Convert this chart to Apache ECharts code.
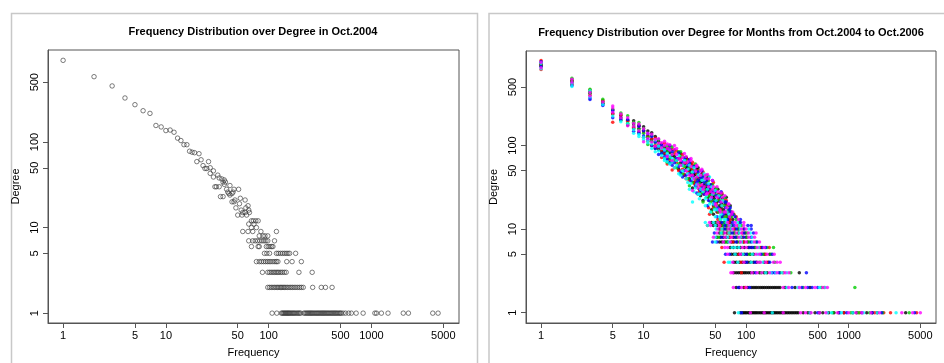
<!DOCTYPE html>
<html>
<head>
<meta charset="utf-8">
<script src="https://cdn.jsdelivr.net/npm/echarts@6/dist/echarts.min.js"></script>
<style>
  html, body { margin: 0; padding: 0; background: #fff; }
  #chart { width: 944px; height: 363px; }
</style>
</head>
<body>
<div id="chart"></div>
<script>
// ---- data ----
var freqTicks = [1, 5, 10, 50, 100, 500, 1000, 5000];
var degreeTicks = [1, 5, 10, 50, 100, 500];
var rowDegrees = [1, 2, 3, 4, 5, 6, 7, 8, 9, 10, 11, 12];

// Oct.2004: [frequency, degree] for the upper curve, frequencies per degree row below
var oct2004Curve = [[1,900],[2,580],[3,452],[4,327],[5,273],[6,232],[7,216],[8,156],[9,150],[10,136],[11,138],[12,130],[13,111],[14,104],[15,93],[16,93],[17,78],[18,76],[19,75],[20,59],[21,73],[22,62],[23,53],[24,49],[25,49],[26,59],[27,50],[27,43],[29,46],[29,39],[30,30],[31,30],[32,41],[33,30],[33,38],[34,23],[35,37],[36,34],[36,23],[37,36],[37,32],[38,34],[39,28],[40,26],[41,25],[42,31],[42,24],[44,25],[44,20],[45,26],[46,28],[46,20],[47,21],[48,17],[50,14],[51,28],[52,19],[53,22],[54,16],[55,14],[56,15],[59,21],[59,15],[60,17],[61,14],[63,18],[64,16],[65,15]];
var oct2004Rows = [
  [108,120,133,136,139,142,145,148,151,154,157,160,164,168,172,176,180,185,190,195,200,205,220,226,232,238,244,250,256,262,268,275,282,289,296,303,310,318,326,334,342,350,359,368,377,386,396,406,416,427,438,449,460,472,485,497,508,530,560,600,637,710,830,1080,1120,1250,1450,2040,2290,3950,4450],
  [98,102,106,110,114,118,122,126,130,134,138,142,147,152,158,164,170,177,184,192,200,208,217,268,325,357,414],
  [87,98,102,106,110,114,118,122,126,131,136,142,148,197,265],
  [76,81,85,89,93,97,101,105,110,115,119,123,150,169,208],
  [91,96,102,119,124,130,136,142,148,154,160,183],
  [68,79,81,95,99,103,107,110],
  [64,70,74,78,82,86,90,94,98,114],
  [81,88,92,98],
  [56,63,70,84,119],
  [68,76],
  [64,72],
  [68,71,75,79]
];

// Oct.2004 - Oct.2006, grouped by plotting colour
var blackCurve = [[1,960],[1,930],[1,900],[2,600],[2,580],[2,560],[3,440],[3,420],[4,335],[4,320],[5,265],[5,240],[6,228],[6,215],[7,200],[7,176],[8,198],[8,180],[8,160],[9,175],[9,160],[9,145],[10,168],[10,150],[11,149],[11,130],[12,142],[12,118],[13,128],[13,96],[14,112],[14,90],[15,104],[15,86],[16,96],[16,80],[17,86],[17,92],[18,82],[18,72],[19,76],[19,64],[20,74],[20,88],[21,66],[22,70],[22,52],[23,62],[23,80],[23,46],[24,58],[25,60],[25,44],[26,54],[26,70],[26,72],[27,55],[28,50],[28,40],[29,52],[29,60],[30,46],[30,31],[31,44],[31,36],[32,45],[33,40],[33,52],[34,42],[34,54],[35,38],[35,30],[36,36],[36,25],[37,37],[37,46],[38,33],[38,27],[38,22],[39,34],[40,31],[41,32],[41,40],[42,30],[43,28],[43,24],[43,42],[44,29],[45,26],[45,34],[46,27],[46,17],[47,24],[48,25],[48,19],[48,15],[49,23],[50,22],[50,30],[52,21],[52,16],[53,22],[53,30],[54,26],[55,19],[57,18],[57,14],[58,20],[58,26],[59,23],[60,17],[62,16],[63,20],[64,15],[64,24],[66,14],[67,16],[68,13],[70,14],[70,19],[72,15],[74,13]];
var blackRows = [
  [77,88,92,95,98,101,105,108,112,116,120,124,128,133,138,143,148,153,158,164,170,176,182,188,195,202,210,218,226,235,244,254,264,275,286,298,310,322,360,400,420,470,520,560,640,720,800,900,1100,1200,1500,1700,1900,3600],
  [80,86,95,104,112,117,122,127,133,139,145,151,158,165,172,180,188,196,205,214,240,300,420],
  [76,80,84,88,92,96,100,105,110,118,135,150,160,330],
  [76,80,86,92,98,104,110,118,126,150,165],
  [72,76,80,84,90,96,103,110,118,150,170],
  [70,75,82,88,96,105,112,120,140],
  [55,58,62,66,72,76,82,94,104],
  [52,56,60,64,68,75,80,90,100],
  [55,60,65,70,76,84,98],
  [55,60,64,70,78,85],
  [48,52,58,64,72],
  [46,50,56,62,70]
];
var redCurve = [[1,1040],[1,920],[1,810],[2,610],[2,540],[3,460],[3,400],[4,345],[5,238],[5,190],[6,235],[7,195],[8,165],[9,170],[10,145],[10,125],[11,128],[11,112],[12,120],[12,100],[13,100],[13,122],[14,94],[15,88],[15,72],[16,82],[16,106],[17,70],[17,60],[18,66],[18,98],[19,51],[19,90],[20,80],[20,54],[21,62],[21,86],[22,50],[23,70],[24,52],[24,78],[25,45],[26,62],[26,40],[27,48],[27,68],[28,38],[29,44],[30,52],[30,58],[30,63],[31,35],[32,38],[33,46],[34,50],[34,26],[35,42],[35,28],[36,33],[37,44],[38,38],[38,48],[39,26],[40,28],[41,36],[42,38],[43,26],[43,18],[44,22],[44,15],[45,30],[46,34],[47,22],[48,18],[48,36],[49,27],[50,29],[51,20],[53,16],[53,13],[54,23],[55,26],[56,17],[58,14],[58,27],[59,19],[61,22],[62,14],[64,22],[65,16],[66,19],[70,13],[72,16],[76,15],[80,14]];
var redRows = [
  [900,1280,1800,2200,2560,4600],
  [98,580],
  [90,230],
  [61,89,160],
  [85,155],
  [58,136,168],
  [74,96],
  [70,93],
  [67,92],
  [57,76,94],
  [42,56,84],
  [55,68]
];
var greenCurve = [[1,960],[1,880],[2,635],[2,590],[3,470],[3,440],[3,420],[4,356],[4,320],[5,270],[6,245],[6,200],[7,226],[7,185],[8,190],[8,172],[9,188],[9,155],[10,160],[10,140],[11,125],[11,103],[12,132],[12,112],[13,108],[13,92],[14,102],[14,118],[15,96],[15,80],[16,90],[16,70],[17,84],[17,100],[17,63],[18,70],[18,62],[19,80],[19,96],[20,68],[21,54],[22,60],[22,84],[23,74],[23,84],[24,46],[25,56],[25,72],[26,66],[27,40],[28,54],[28,62],[28,33],[29,47],[30,36],[31,50],[31,56],[32,40],[32,60],[33,32],[34,45],[35,35],[35,50],[36,27],[37,40],[38,44],[38,21],[39,30],[40,36],[41,24],[41,44],[42,33],[43,38],[44,25],[45,21],[46,29],[46,16],[47,34],[48,22],[49,18],[50,26],[51,30],[51,31],[52,19],[54,16],[55,22],[56,13],[57,25],[58,16],[60,14],[61,19],[62,24],[63,21],[64,14],[67,17],[68,19],[69,17],[72,14],[75,15],[80,13]];
var greenRows = [
  [700,1050,1250,1600,2150,3900],
  [360,540,1150],
  [140,215,273],
  [135,190],
  [108,145,175],
  [124,160,185],
  [64,86,108,125],
  [54,82,102],
  [58,78,102],
  [66,83],
  [60,66,90],
  [52,60,86]
];
var blueCurve = [[1,1000],[1,880],[2,520],[3,370],[3,355],[4,310],[4,300],[5,260],[5,215],[6,205],[7,205],[8,148],[9,170],[9,140],[10,150],[10,130],[11,138],[11,118],[12,128],[12,100],[13,110],[13,92],[14,96],[14,78],[15,100],[15,80],[16,86],[16,74],[17,76],[17,68],[18,90],[18,62],[18,100],[19,84],[19,58],[20,62],[21,70],[22,56],[22,82],[23,48],[24,64],[24,42],[25,50],[25,70],[26,44],[27,58],[28,46],[28,62],[28,68],[29,38],[30,42],[31,48],[31,56],[32,33],[33,36],[33,27],[34,38],[34,48],[36,41],[36,29],[37,31],[37,50],[38,42],[39,36],[39,26],[41,28],[41,38],[42,34],[42,19],[43,22],[44,31],[45,34],[46,23],[47,28],[47,38],[48,20],[49,21],[50,28],[51,25],[52,17],[52,14],[53,18],[55,24],[56,21],[57,28],[58,14],[60,15],[62,21],[63,18],[64,21],[66,13],[68,17],[70,18],[71,16],[74,15],[78,14],[88,13]];
var blueRows = [
  [90,500,820,960,1350,1700,2100,4400],
  [84,108,280,350,400,440,500],
  [124,180,190,210,387],
  [101,122,170],
  [63,69,100,140,180],
  [108,116,145,155],
  [47,52,80,112,128],
  [58,78,95,112],
  [49,73,95,118],
  [62,81,96,112],
  [62,76,104,112],
  [58,74,88]
];
var cyanCurve = [[1,960],[1,830],[2,555],[2,506],[3,450],[3,380],[4,310],[5,225],[6,192],[7,182],[8,155],[8,140],[9,135],[9,128],[10,125],[10,118],[11,115],[11,108],[12,104],[12,92],[13,116],[13,84],[14,98],[14,86],[15,92],[15,76],[16,88],[16,70],[16,66],[17,80],[17,64],[18,74],[18,60],[19,70],[19,64],[20,54],[21,58],[21,66],[22,76],[22,46],[23,44],[24,50],[24,58],[25,66],[26,40],[27,46],[27,52],[27,36],[28,58],[28,30],[29,35],[30,40],[30,48],[30,21],[31,54],[31,28],[32,31],[33,34],[34,44],[34,26],[35,44],[35,26],[35,23],[36,30],[37,38],[38,28],[39,39],[39,46],[40,23],[40,19],[41,25],[42,30],[43,35],[44,20],[44,42],[45,23],[45,16],[46,32],[47,26],[48,20],[49,17],[50,29],[50,14],[51,22],[52,17],[54,25],[55,14],[56,13],[57,15],[58,19],[59,22],[61,13],[63,13],[65,16],[68,15]];
var cyanRows = [
  [84,180,420,620,680,850,1100,1400,1900,2900],
  [250,320,520,590],
  [155,175,195,225,250],
  [67,70,83,112,145],
  [78,93,115,130],
  [73,78,85,132],
  [50,68,90,116],
  [50,66,88,115],
  [57,68,86,110],
  [51,58,72,88,106],
  [42,50,70,86],
  [40,48,64,82]
];
var magentaCurve = [[1,980],[1,850],[2,620],[2,570],[3,430],[3,390],[4,330],[5,297],[5,280],[5,250],[6,238],[6,215],[7,215],[7,172],[8,185],[8,170],[9,180],[9,150],[10,158],[10,111],[11,140],[11,120],[12,136],[12,110],[13,118],[13,98],[14,120],[14,106],[15,108],[15,94],[16,100],[16,112],[17,92],[17,74],[17,104],[18,88],[18,102],[19,66],[19,78],[20,90],[20,100],[21,78],[21,92],[22,70],[23,66],[23,58],[24,72],[25,62],[25,80],[26,50],[26,74],[27,64],[28,44],[29,56],[29,66],[29,70],[30,44],[30,29],[31,40],[32,50],[33,42],[33,56],[33,58],[34,34],[34,31],[36,44],[36,50],[37,34],[37,52],[38,30],[39,32],[40,40],[40,44],[41,26],[42,27],[42,45],[43,32],[43,40],[45,28],[46,24],[47,30],[47,38],[48,27],[48,32],[50,20],[51,19],[52,24],[52,32],[53,28],[55,17],[56,16],[57,21],[57,27],[59,24],[61,16],[62,25],[63,16],[65,18],[67,20],[68,20],[69,14],[72,15],[74,16],[84,13]];
var magentaRows = [
  [110,150,230,340,380,430,520,600,780,1000,1180,1350,1650,2000,3300,4200,5000],
  [75,90,100,230,260,330,380,470,560,620],
  [71,74,114,128,142,170,200,240,262],
  [74,95,130,138,155,185,200,215],
  [66,88,125,135,160,188],
  [62,66,92,100,128,150],
  [60,70,88,100,120,135],
  [48,62,72,85,106,121],
  [52,62,80,90,105,125],
  [53,67,74,90,100],
  [45,55,68,80,95],
  [44,53,66,78,95]
];

// ---- build chart ----
function withRows(curve, rows) {
  var pts = curve.slice();
  rows.forEach(function (xs, i) {
    xs.forEach(function (x) { pts.push([x, rowDegrees[i]]); });
  });
  return pts;
}

var FONT = '"Liberation Sans", Arial, Helvetica, sans-serif';
var AX = '#555';

function freqAxis(gridIndex) {
  return {
    type: 'log', logBase: 10, gridIndex: gridIndex,
    min: 0.713, max: 7110,
    name: 'Frequency', nameLocation: 'middle', nameGap: 24,
    nameTextStyle: { fontFamily: FONT, fontSize: 11, color: '#000' },
    axisLine: { show: true, lineStyle: { color: AX, width: 1 } },
    axisTick: { show: true, length: 5, customValues: freqTicks, lineStyle: { color: AX } },
    axisLabel: { customValues: freqTicks, margin: 7, fontFamily: FONT, fontSize: 11, color: '#000',
      formatter: function (v) { return String(v); } },
    splitLine: { show: false }, minorTick: { show: false }
  };
}
function degreeAxis(gridIndex, min, max) {
  return {
    type: 'log', logBase: 10, gridIndex: gridIndex,
    min: min, max: max,
    name: 'Degree', nameLocation: 'middle', nameGap: 27,
    nameTextStyle: { fontFamily: FONT, fontSize: 11, color: '#000' },
    axisLine: { show: true, lineStyle: { color: AX, width: 1 } },
    axisTick: { show: true, length: 5, customValues: degreeTicks, lineStyle: { color: AX } },
    axisLabel: { customValues: degreeTicks, rotate: 90, margin: 8, fontFamily: FONT, fontSize: 11, color: '#000',
      formatter: function (v) { return String(v); } },
    splitLine: { show: false }, minorTick: { show: false }
  };
}
function dots(name, color, curve, rows) {
  return {
    name: name, type: 'scatter', xAxisIndex: 1, yAxisIndex: 1,
    symbol: 'circle', symbolSize: 3.5, silent: true, progressive: 0,
    itemStyle: { color: color },
    data: withRows(curve, rows)
  };
}

var option = {
  animation: false,
  backgroundColor: '#fff',
  grid: [
    { left: 48, top: 50, width: 411, height: 273, show: true, borderColor: AX, borderWidth: 1 },
    { left: 526, top: 51, width: 410, height: 273, show: true, borderColor: AX, borderWidth: 1 }
  ],
  xAxis: [freqAxis(0), freqAxis(1)],
  yAxis: [degreeAxis(0, 0.767, 1189), degreeAxis(1, 0.752, 1349)],
  graphic: [
    { type: 'rect', z: -10, shape: { x: 11.5, y: 13.5, width: 466, height: 400 },
      style: { fill: 'none', stroke: '#c8c8c8', lineWidth: 1.5 } },
    { type: 'rect', z: -10, shape: { x: 489, y: 13.5, width: 500, height: 400 },
      style: { fill: 'none', stroke: '#c8c8c8', lineWidth: 1.5 } },
    { type: 'text', x: 253, y: 32,
      style: { text: 'Frequency Distribution over Degree in Oct.2004', font: 'bold 11px ' + FONT,
        fill: '#000', textAlign: 'center', textVerticalAlign: 'middle', verticalAlign: 'middle' } },
    { type: 'text', x: 731, y: 33,
      style: { text: 'Frequency Distribution over Degree for Months from Oct.2004 to Oct.2006', font: 'bold 11px ' + FONT,
        fill: '#000', textAlign: 'center', textVerticalAlign: 'middle', verticalAlign: 'middle' } }
  ],
  series: [
    {
      name: 'Oct.2004', type: 'scatter', xAxisIndex: 0, yAxisIndex: 0,
      symbol: 'circle', symbolSize: 4.5, silent: true, progressive: 0,
      itemStyle: { color: 'rgba(0,0,0,0)', borderColor: '#333', borderWidth: 0.8 },
      data: withRows(oct2004Curve, oct2004Rows)
    },
    dots('black', '#000000', blackCurve, blackRows),
    dots('red', '#ff0000', redCurve, redRows),
    dots('green', '#00cd00', greenCurve, greenRows),
    dots('blue', '#0000ff', blueCurve, blueRows),
    dots('cyan', '#00ffff', cyanCurve, cyanRows),
    dots('magenta', '#ff00ff', magentaCurve, magentaRows)
  ]
};

var chart = echarts.init(document.getElementById('chart'));
chart.setOption(option);
</script>
</body>
</html>
